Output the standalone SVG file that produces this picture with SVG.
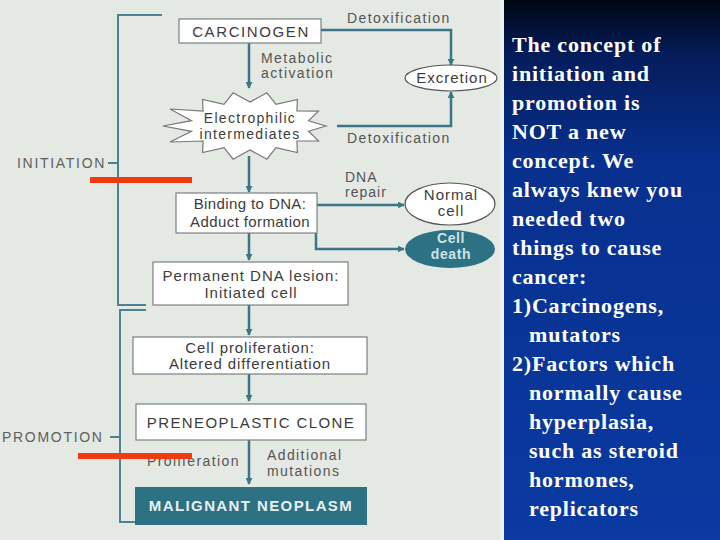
<svg xmlns="http://www.w3.org/2000/svg" width="720" height="540" viewBox="0 0 720 540">
<defs>
<linearGradient id="panel" x1="0" y1="0" x2="0" y2="1">
<stop offset="0" stop-color="#000612"/>
<stop offset="0.1" stop-color="#041c5a"/>
<stop offset="0.3" stop-color="#08308e"/>
<stop offset="1" stop-color="#0a3aa2"/>
</linearGradient>
<marker id="ah" viewBox="0 0 10 10" refX="9" refY="5" markerWidth="7" markerHeight="7" markerUnits="userSpaceOnUse" orient="auto">
<path d="M0,0 L10,5 L0,10 z" fill="#3a7688"/>
</marker>
<style>
.ln{stroke:#3a7688;stroke-width:2.5;fill:none}
.br{stroke:#4a8494;stroke-width:2;fill:none}
.box{fill:#ffffff;stroke:#7a8080;stroke-width:1.2}
.t{font-family:"Liberation Sans",Arial,sans-serif;fill:#3c3c3c}
.b{font-size:15px;text-anchor:middle;letter-spacing:1px}
.cap{letter-spacing:1.4px}
.s{font-size:14px;fill:#555;letter-spacing:1.4px}
.lbl{font-size:14px;fill:#606060;letter-spacing:1.7px}
.w{font-family:"Liberation Serif","Times New Roman",serif;font-weight:bold;font-size:22px;fill:#ffffff;letter-spacing:0.8px}
</style>
</defs>
<rect x="0" y="0" width="720" height="540" fill="#e4e9e4"/>
<rect x="504" y="0" width="216" height="540" fill="url(#panel)"/>
<rect x="500" y="0" width="4" height="540" fill="#eef2ef"/>

<g id="brackets">
<path class="br" d="M162,15 H118 V305 H146"/>
<path class="br" d="M108,163 H118"/>
<path class="br" d="M146,310 H120 V522 H163"/>
<path class="br" d="M110,437 H120"/>
<text class="t lbl" x="17" y="168">INITIATION</text>
<text class="t lbl" x="2" y="442">PROMOTION</text>
</g>

<g id="connectors">
<path class="ln" d="M249,43 V88" marker-end="url(#ah)"/>
<path class="ln" d="M321,30 H451 V65" marker-end="url(#ah)"/>
<path class="ln" d="M337,126 H451 V92" marker-end="url(#ah)"/>
<path class="ln" d="M249,156 V192" marker-end="url(#ah)"/>
<path class="ln" d="M317,205 H404" marker-end="url(#ah)"/>
<path class="ln" d="M316,233 V249 H404" marker-end="url(#ah)"/>
<path class="ln" d="M249,233 V260" marker-end="url(#ah)"/>
<path class="ln" d="M249,305 V335" marker-end="url(#ah)"/>
<path class="ln" d="M249,374 V401" marker-end="url(#ah)"/>
<path class="ln" d="M249,440 V484" marker-end="url(#ah)"/>
<text class="t s" x="347" y="23">Detoxification</text>
<text class="t s" x="261" y="63">Metabolic</text>
<text class="t s" x="261" y="78">activation</text>
<text class="t s" x="347" y="143">Detoxification</text>
<text class="t s" x="345" y="182" style="letter-spacing:1px">DNA</text>
<text class="t s" x="345" y="197" style="letter-spacing:1px">repair</text>
<text class="t s" x="147" y="466">Proliferation</text>
<text class="t s" x="267" y="460">Additional</text>
<text class="t s" x="267" y="476">mutations</text>
</g>

<g id="carcinogen">
<rect class="box" x="179" y="19" width="142" height="24"/>
<text class="t b" x="251" y="37" style="letter-spacing:1.6px">CARCINOGEN</text>
</g>

<g id="electrophilic">
<polygon fill="#ffffff" stroke="#777" stroke-width="1.2" points="326,126 308.5,131.3 318.5,140.8 296.9,141 297.4,152.6 276,147.6 266.9,159.2 250,150 233.1,159.2 224,147.6 202.6,152.6 203.1,141 170,142 191.5,131.3 163,126 191.5,120.7 170,109 203.1,111 202.6,99.4 224,104.4 233.1,92.8 250,102 266.9,92.8 276,104.4 297.4,99.4 296.9,111 318.5,111.2 308.5,120.7"/>
<text class="t b" x="250" y="123" style="font-size:14px;letter-spacing:1.3px">Electrophilic</text>
<text class="t b" x="250" y="139" style="font-size:14px;letter-spacing:1.3px">intermediates</text>
</g>

<g id="excretion">
<ellipse cx="451" cy="78" rx="46" ry="13" fill="#ffffff" stroke="#555" stroke-width="1.2"/>
<text class="t b" x="452" y="83">Excretion</text>
</g>

<g id="binding">
<rect class="box" x="176" y="193" width="141" height="40"/>
<text class="t b" x="250" y="209" style="letter-spacing:0.4px">Binding to DNA:</text>
<text class="t b" x="250" y="227" style="letter-spacing:0.4px">Adduct formation</text>
</g>

<g id="normal-cell">
<ellipse cx="450" cy="204" rx="45" ry="21" fill="#ffffff" stroke="#555" stroke-width="1.2"/>
<text class="t b" x="451" y="200">Normal</text>
<text class="t b" x="451" y="216">cell</text>
</g>

<g id="cell-death">
<ellipse cx="450" cy="249" rx="45" ry="19" fill="#2d7184"/>
<text class="t b" x="451" y="243" style="fill:#cfe3e6;font-weight:bold;font-size:14px;letter-spacing:0.6px">Cell</text>
<text class="t b" x="451" y="259" style="fill:#cfe3e6;font-weight:bold;font-size:14px;letter-spacing:0.6px">death</text>
</g>

<g id="permanent">
<rect class="box" x="153" y="262" width="195" height="43"/>
<text class="t b" x="251" y="281">Permanent DNA lesion:</text>
<text class="t b" x="251" y="298">Initiated cell</text>
</g>

<g id="proliferation">
<rect class="box" x="133" y="337" width="234" height="37"/>
<text class="t b" x="250" y="353" style="letter-spacing:0.9px">Cell proliferation:</text>
<text class="t b" x="250" y="369" style="letter-spacing:0.9px">Altered differentiation</text>
</g>

<g id="preneoplastic">
<rect class="box" x="136" y="404" width="230" height="36"/>
<text class="t b cap" x="251" y="428">PRENEOPLASTIC CLONE</text>
</g>

<g id="malignant">
<rect x="135" y="487" width="232" height="38" fill="#2d7184"/>
<text class="t b cap" x="251" y="511" style="fill:#e8f0f2;font-weight:bold">MALIGNANT NEOPLASM</text>
</g>

<g id="red-marks">
<rect x="90" y="177" width="102" height="6" fill="#f03a10"/>
<rect x="78" y="453" width="114" height="6" fill="#f03a10"/>
</g>

<g id="note">
<text class="w" x="512" y="52">The concept of</text>
<text class="w" x="512" y="81">initiation and</text>
<text class="w" x="512" y="110">promotion is</text>
<text class="w" x="512" y="139">NOT a new</text>
<text class="w" x="512" y="168">concept. We</text>
<text class="w" x="512" y="197">always knew you</text>
<text class="w" x="512" y="226">needed two</text>
<text class="w" x="512" y="255">things to cause</text>
<text class="w" x="512" y="284">cancer:</text>
<text class="w" x="512" y="313">1)Carcinogens,</text>
<text class="w" x="529" y="342">mutators</text>
<text class="w" x="512" y="371">2)Factors which</text>
<text class="w" x="529" y="400">normally cause</text>
<text class="w" x="529" y="429">hyperplasia,</text>
<text class="w" x="529" y="458">such as steroid</text>
<text class="w" x="529" y="487">hormones,</text>
<text class="w" x="529" y="516">replicators</text>
</g>
</svg>
